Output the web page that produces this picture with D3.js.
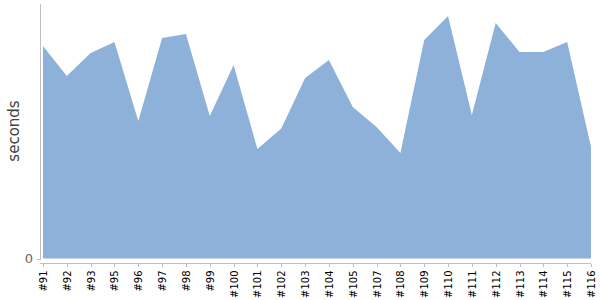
<!DOCTYPE html>
<html>
<head>
<meta charset="utf-8">
<script src="https://cdn.jsdelivr.net/npm/d3@7"></script>
<style>
  body { margin: 0; background: #fff; }
  .axis path, .axis line { stroke: #c0c0c0; shape-rendering: crispEdges; }
  .xaxis text { font-family: "DejaVu Sans", sans-serif; font-size: 10px; fill: #000; }
  .yaxis text { font-family: "DejaVu Sans", sans-serif; font-size: 13px; fill: #666; }
</style>
</head>
<body>
<div class="graphic"></div>
<script>
// builds along the x axis (some numbers are missing)
var builds = ["#91","#92","#93","#95","#96","#97","#98","#99","#100","#101","#102","#103",
              "#104","#105","#107","#108","#109","#110","#111","#112","#113","#114","#115","#116"]
// duration of each build, seconds
var durations = [8.35, 7.17, 8.07, 8.51, 5.40, 8.66, 8.82, 5.60, 7.60, 4.30, 5.11, 7.09,
                 7.80, 5.95, 5.17, 4.15, 8.59, 9.53, 5.64, 9.25, 8.11, 8.11, 8.51, 4.38]
var yMax = 10
var yTicks = [0]

var svg_width = 600, svg_height = 300

var svg = d3.select(".graphic")
  .append("svg")
  .attr("width", svg_width)
  .attr("height", svg_height)

var x = d3.scalePoint()
  .domain(builds)
  .range([43, 591])

var y = d3.scaleLinear()
  .domain([0, yMax])
  .range([258.5, 4])

var data = builds.map(function(b, i){ return {build: b, value: durations[i]} })

var area = d3.area()
  .x(function(d){ return x(d.build) })
  .y0(y(0))
  .y1(function(d){ return y(d.value) })

svg.append("path")
  .datum(data)
  .attr("d", area)
  .attr("fill", "#8eb1da")

// y axis: a plain line with the single 0 tick
svg.append("line")
  .attr("class", "axis")
  .attr("x1", 40.5).attr("x2", 40.5)
  .attr("y1", 4).attr("y2", 260)
  .attr("stroke", "#c0c0c0")

var yAxis = svg.append("g")
  .attr("class", "axis yaxis")
  .attr("transform", "translate(40,0)")
  .call(d3.axisLeft(y).tickValues(yTicks).tickSize(3).tickPadding(4).tickFormat(d3.format("d")))
yAxis.select(".domain").remove()

var xAxis = svg.append("g")
  .attr("class", "axis xaxis")
  .attr("transform", "translate(0,263.5)")
  .call(d3.axisBottom(x).tickSize(3).tickSizeOuter(0).tickPadding(4))
xAxis.select(".domain").attr("d", "M40,0H591")
xAxis.selectAll("text")
  .attr("transform", "rotate(-90)")
  .attr("text-anchor", "end")
  .attr("x", -7)
  .attr("y", 0)
  .attr("dy", "0.35em")

svg.append("text")
  .attr("transform", "translate(19,131) rotate(-90)")
  .attr("text-anchor", "middle")
  .attr("font-family", "DejaVu Sans, sans-serif")
  .attr("font-size", "15px")
  .attr("fill", "#444")
  .text("seconds")
</script>
</body>
</html>
